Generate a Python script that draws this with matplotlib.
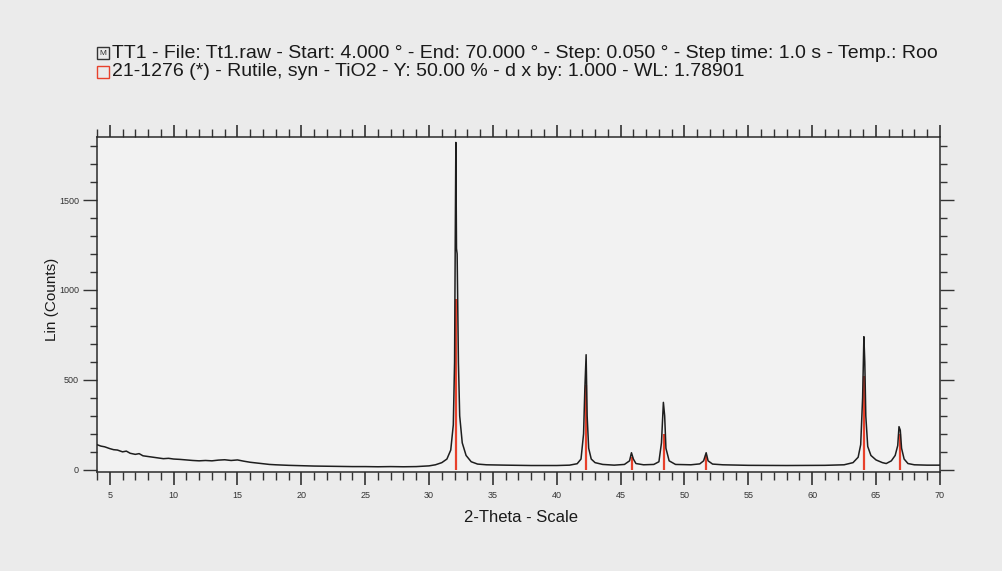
import matplotlib.pyplot as plt
from matplotlib.patches import Rectangle
from matplotlib.ticker import MultipleLocator

plt.rcParams['font.family'] = ['Liberation Sans', 'DejaVu Sans']

# measured pattern Tt1.raw, traced points (2-theta, counts)
two_theta = [4.0, 4.3, 4.6, 5.0, 5.3, 5.6, 6.0, 6.3, 6.6, 7.0, 7.3, 7.6, 8.0, 8.4,
             8.8, 9.2, 9.6, 10.0, 10.5, 11.0, 11.5, 12.0, 12.5, 13.0, 13.5, 14.0,
             14.5, 15.0, 15.5, 16.0, 16.5, 17.0, 17.5, 18.0, 19.0, 20.0, 21.0, 22.0,
             23.0, 24.0, 25.0, 26.0, 27.0, 28.0, 29.0, 30.0, 30.5, 31.0, 31.4, 31.7,
             31.9, 32.0, 32.05, 32.1, 32.15, 32.2, 32.3, 32.4, 32.6, 32.9, 33.3, 33.8,
             34.5, 36.0, 38.0, 40.0, 41.0, 41.6, 41.9, 42.1, 42.2, 42.3, 42.38, 42.5,
             42.7, 43.0, 43.6, 44.5, 45.3, 45.7, 45.85, 46.0, 46.2, 46.8, 47.6, 48.0,
             48.2, 48.35, 48.45, 48.55, 48.8, 49.3, 50.5, 51.2, 51.5, 51.7, 51.85,
             52.2, 53.0, 55.0, 58.0, 61.0, 62.5, 63.2, 63.6, 63.8, 63.95, 64.05,
             64.12, 64.2, 64.35, 64.6, 65.0, 65.5, 65.8, 66.2, 66.5, 66.7, 66.8,
             66.9, 67.0, 67.2, 67.5, 68.0, 69.0, 70.0]
counts = [140, 132, 128, 118, 112, 110, 100, 104, 92, 86, 90, 78, 74, 70,
          66, 62, 64, 60, 58, 55, 52, 50, 52, 50, 54, 56,
          52, 55, 48, 42, 38, 34, 30, 28, 25, 23, 21, 20,
          19, 18, 18, 17, 18, 17, 18, 22, 28, 40, 60, 110,
          250, 600, 1250, 1820, 1230, 1200, 600, 300, 150, 80, 45, 32,
          28, 26, 24, 24, 26, 34, 60, 200, 450, 640, 300, 120,
          60, 40, 30, 26, 30, 50, 95, 60, 35, 28, 30, 45,
          150, 375, 300, 120, 50, 30, 28, 33, 50, 95, 50,
          32, 28, 25, 24, 25, 28, 40, 70, 140, 400, 740,
          600, 300, 130, 80, 55, 40, 35, 50, 80, 135, 240,
          220, 120, 60, 35, 28, 26, 26]

# 21-1276 Rutile, syn - stick positions and heights (Y: 50 %)
ref_theta = [32.1, 42.3, 45.87, 48.36, 51.72, 64.05, 66.9]
ref_counts = [950, 470, 70, 200, 85, 520, 200]

header_1 = "TT1 - File: Tt1.raw - Start: 4.000 ° - End: 70.000 ° - Step: 0.050 ° - Step time: 1.0 s - Temp.: Roo"
header_2 = "21-1276 (*) - Rutile, syn - TiO2 - Y: 50.00 % - d x by: 1.000 - WL: 1.78901"
x_ticks = list(range(5, 71, 5))
y_ticks = [0, 500, 1000, 1500]

fig = plt.figure(figsize=(10.02, 5.71), dpi=100, facecolor='#ebebeb')
ax = fig.add_axes([0.0968, 0.1734, 0.8412, 0.5866], facecolor='#f2f2f2')

ax.vlines(ref_theta, 0, ref_counts, color='#e8412c', lw=1.6, zorder=2)
ax.plot(two_theta, counts, color='#1e1e1e', lw=1.1, zorder=3)

ax.set_xlim(4, 70)
ax.set_ylim(-12, 1850)

ax.xaxis.set_minor_locator(MultipleLocator(1))
ax.set_xticks(x_ticks)
ax.set_yticks(y_ticks)
ax.yaxis.set_minor_locator(MultipleLocator(100))

ax.tick_params(axis='x', which='both', bottom=True, top=True, direction='out',
               labelsize=6.5, labelcolor='#333333', color='#333333', pad=5)
ax.tick_params(axis='x', which='major', length=9, width=1.2)
ax.tick_params(axis='x', which='minor', length=6, width=1.0)
ax.tick_params(axis='y', which='both', left=True, right=True, direction='out',
               labelsize=6.5, labelcolor='#333333', color='#333333', pad=3)
ax.tick_params(axis='y', which='major', length=10, width=1.0)
ax.tick_params(axis='y', which='minor', length=5, width=1.0)
# right-hand ticks are fainter
for t in ax.yaxis.get_major_ticks() + ax.yaxis.get_minor_ticks():
    t.tick2line.set_color('#8a8a8a')

for s in ax.spines.values():
    s.set_color('#2a2a2a')
    s.set_linewidth(1.1)

fig.text(0.0968 + 0.015, 0.906, header_1, fontsize=14, color='#1a1a1a', va='center')
fig.text(0.0968 + 0.015, 0.875, header_2, fontsize=14, color='#1a1a1a', va='center')
fig.patches.append(Rectangle((0.0968, 0.896), 0.012, 0.021, transform=fig.transFigure,
                             fill=False, ec='#333333', lw=1.0))
fig.text(0.1028, 0.906, 'M', fontsize=6, ha='center', va='center', color='#333333')
fig.patches.append(Rectangle((0.0968, 0.864), 0.012, 0.021, transform=fig.transFigure,
                             fill=False, ec='#e8412c', lw=1.0))

fig.text(0.052, 0.475, 'Lin (Counts)', rotation=90, fontsize=11, color='#1a1a1a',
         ha='center', va='center')
fig.text(0.52, 0.093, '2-Theta - Scale', fontsize=12, color='#1a1a1a',
         ha='center', va='center')

fig.savefig('out.png', dpi=100, facecolor=fig.get_facecolor())
